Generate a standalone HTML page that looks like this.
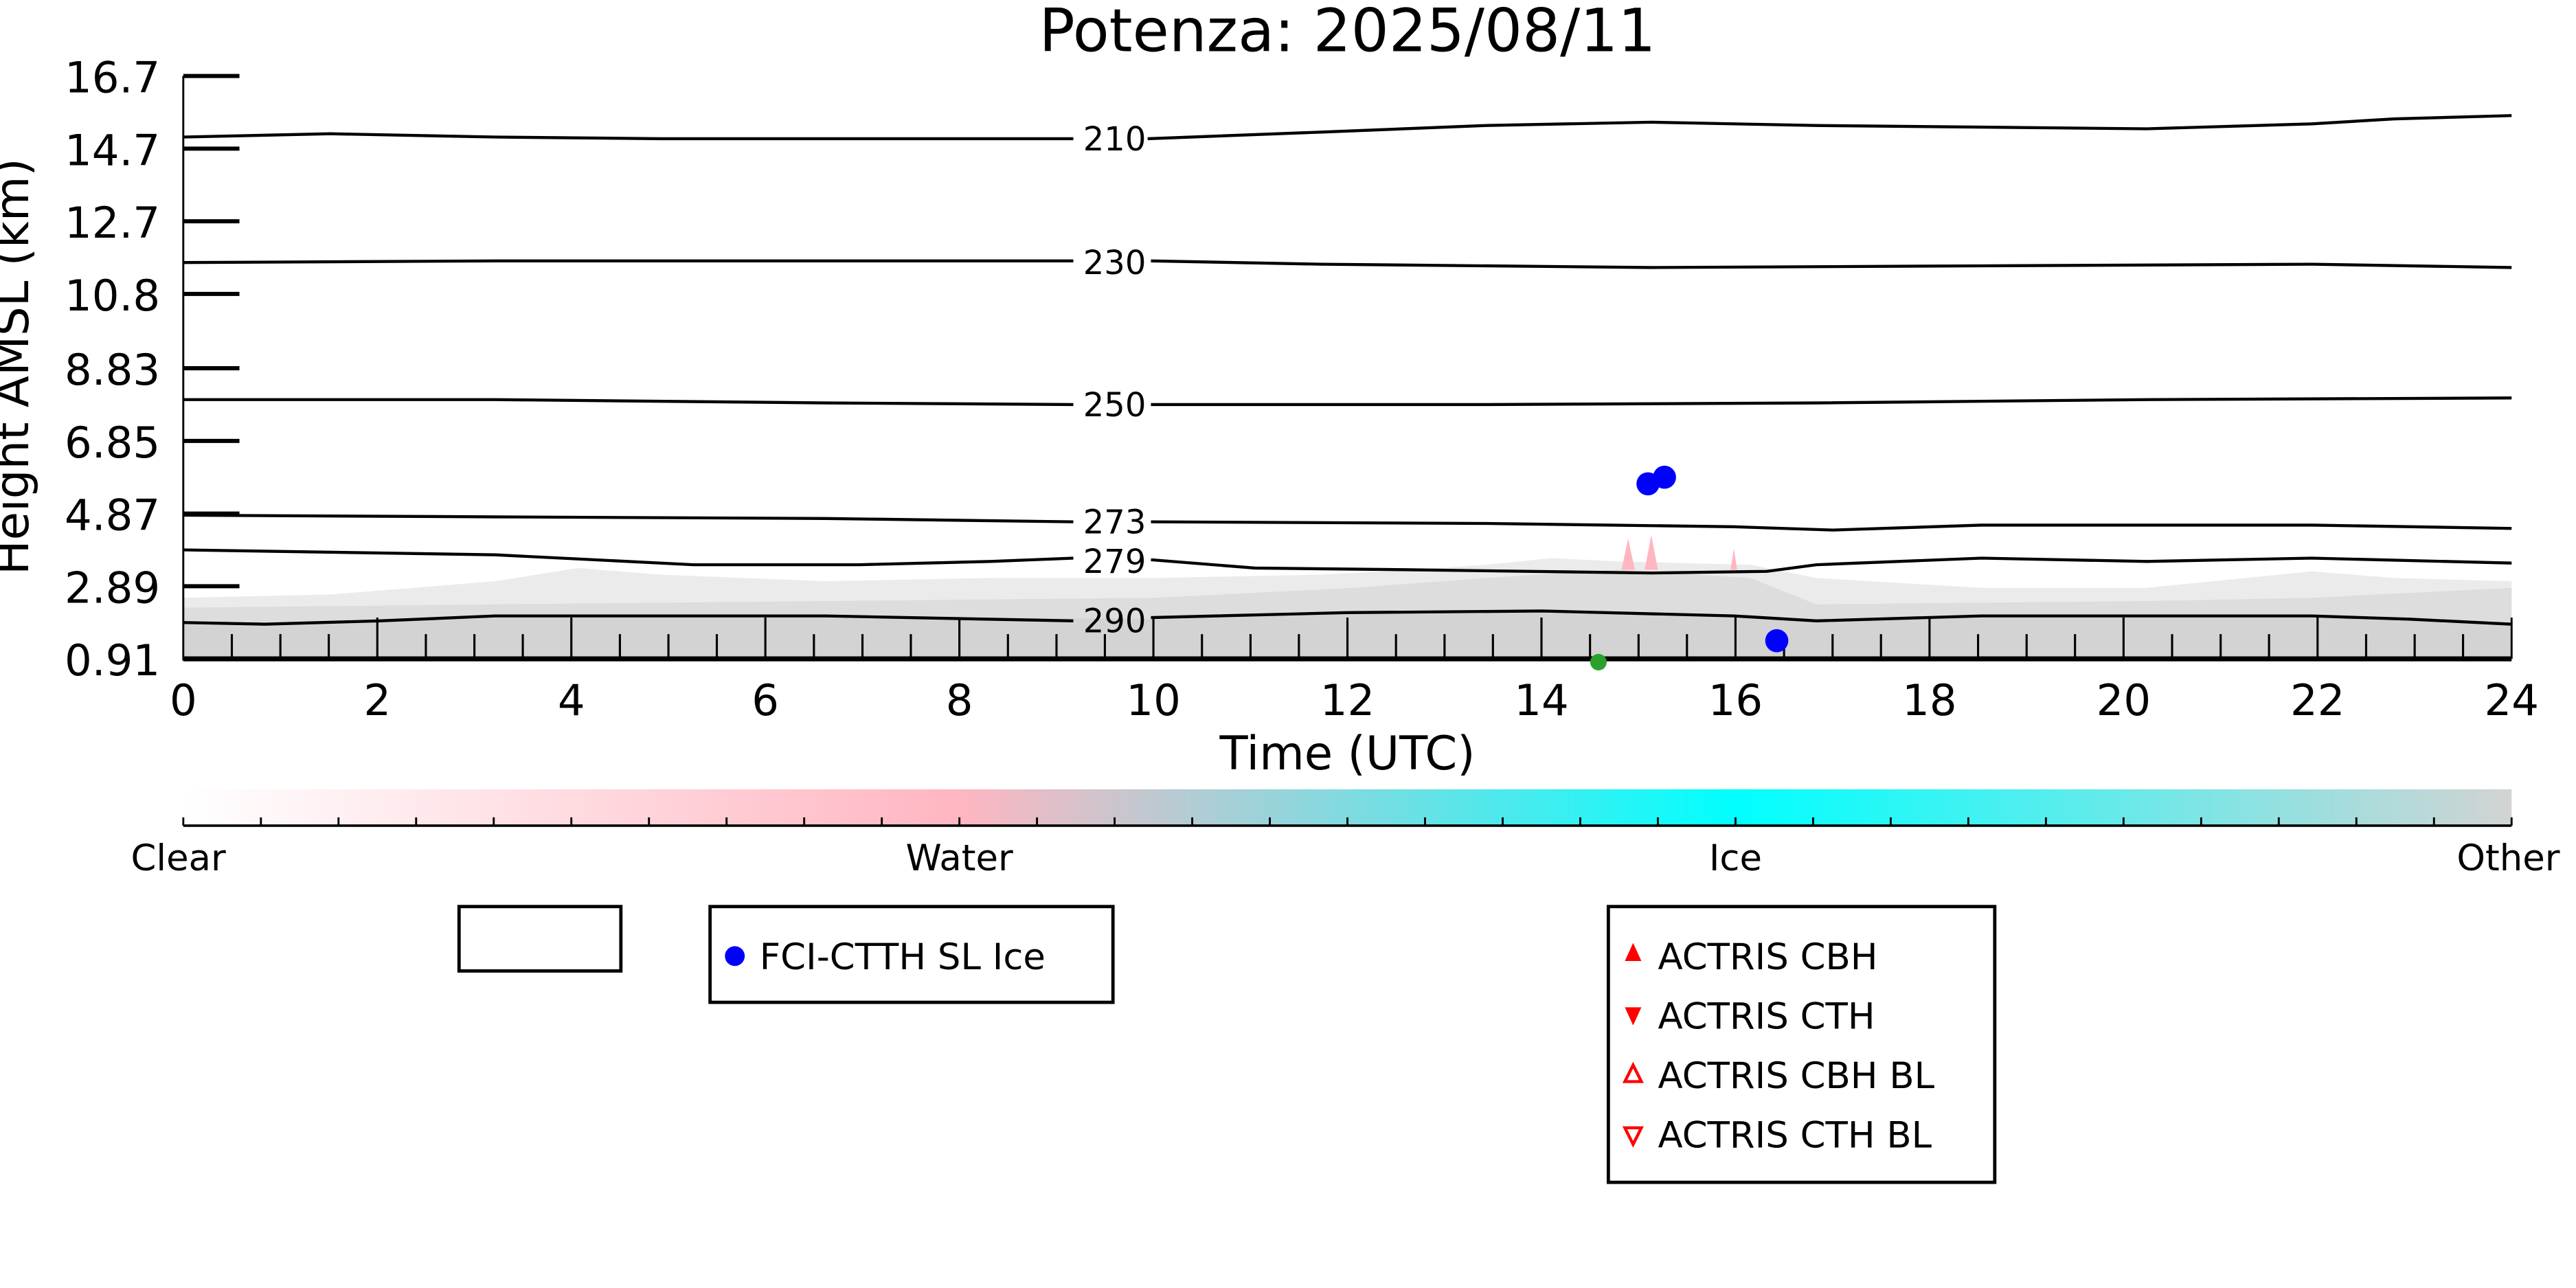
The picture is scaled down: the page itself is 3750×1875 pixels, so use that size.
<!DOCTYPE html>
<html><head><meta charset="utf-8"><style>html,body{margin:0;padding:0;background:#fff}svg{display:block}</style></head>
<body>
<svg width="3750" height="1875" viewBox="0 0 1560 780" preserveAspectRatio="none" xmlns="http://www.w3.org/2000/svg" font-family="'DejaVu Sans','Liberation Sans',sans-serif">
<defs>
<linearGradient id="cb" x1="0" x2="1" y1="0" y2="0">
<stop offset="0" stop-color="#ffffff"/>
<stop offset="0.333" stop-color="#ffb6c1"/>
<stop offset="0.667" stop-color="#00ffff"/>
<stop offset="1" stop-color="#d3d3d3"/>
</linearGradient>
</defs>
<rect width="1560" height="780" fill="#fff"/>
<text x="816" y="31" font-size="36" text-anchor="middle">Potenza: 2025/08/11</text>
<!-- noisy band -->
<path d="M111,362 L200,360 L300,352 L350,344 L400,348 L500,352 L600,350 L700,350 L800,348 L840,346 L900,342 L940,338 L980,340 L1060,342 L1100,350 L1200,356 L1300,356 L1400,346 L1450,350 L1521,352 L1521,399 L111,399 Z" fill="#d3d3d3" opacity="0.45"/>
<path d="M111,368 L300,366 L500,364 L700,362 L820,356 L900,350 L980,345 L1060,350 L1100,366 L1300,364 L1400,362 L1521,356 L1521,399 L111,399 Z" fill="#d3d3d3" opacity="0.6"/>
<path d="M111,377 L160,378 L230,376 L300,373 L500,373 L700,375 L816,372 L934,370 L1050,374 L1100,376 L1200,373 L1300,373 L1400,373 L1460,376 L1521,378 L1521,399 L111,399 Z" fill="#d3d3d3"/>
<path d="M982,345 L986,326 L990,345 Z M996,345 L1000,324 L1004,345 Z M1048,345 L1050,332 L1052,345 Z" fill="#ffb6c1"/>
<!-- contours -->
<g fill="none" stroke="#000" stroke-width="1.8">
<path d="M111,83 L200,81 L300,83 L400,84 L500,84 L650,84"/>
<path d="M695,84 L800,80 L900,76 L1000,74 L1100,76 L1200,77 L1300,78 L1400,75 L1450,72 L1521,70"/>
<path d="M111,159 L300,158 L500,158 L650,158"/>
<path d="M697,158 L800,160 L1000,162 L1200,161 L1400,160 L1521,162"/>
<path d="M111,242 L300,242 L500,244 L650,245"/>
<path d="M697,245 L900,245 L1100,244 L1300,242 L1521,241"/>
<path d="M111,312 L300,313 L500,314 L650,316"/>
<path d="M697,316 L900,317 L1050,319 L1110,321 L1200,318 L1400,318 L1521,320"/>
<path d="M111,333 L300,336 L420,342 L520,342 L600,340 L650,338"/>
<path d="M697,339 L760,344 L850,345 L1000,347 L1070,346 L1100,342 L1200,338 L1300,340 L1400,338 L1521,341"/>
<path d="M111,377 L160,378 L230,376 L300,373 L500,373 L650,376"/>
<path d="M697,374 L816,371 L934,370 L1050,373 L1100,376 L1200,373 L1300,373 L1400,373 L1460,375 L1521,378"/>
</g>
<g font-size="20" text-anchor="middle">
<text x="675" y="91">210</text>
<text x="675" y="166">230</text>
<text x="675" y="252">250</text>
<text x="675" y="323">273</text>
<text x="675" y="347">279</text>
<text x="675" y="383">290</text>
</g>
<!-- axes -->
<line x1="111" y1="46" x2="111" y2="400" stroke="#000" stroke-width="1.2"/>
<line x1="111" y1="399" x2="1521" y2="399" stroke="#000" stroke-width="3"/>
<line x1="1521" y1="374" x2="1521" y2="399" stroke="#000" stroke-width="1.2"/>
<g stroke="#000" stroke-width="2.5">
<line x1="111" y1="46" x2="145" y2="46"/><line x1="111" y1="90" x2="145" y2="90"/>
<line x1="111" y1="134" x2="145" y2="134"/><line x1="111" y1="178" x2="145" y2="178"/>
<line x1="111" y1="223" x2="145" y2="223"/><line x1="111" y1="267" x2="145" y2="267"/>
<line x1="111" y1="311" x2="145" y2="311"/><line x1="111" y1="355" x2="145" y2="355"/>
</g>
<g stroke="#000" stroke-width="1.3" id="xt">
<path d="M228.5,399V374M346,399V374M463.5,399V374M581,399V374M698.5,399V374M816,399V374M933.5,399V374M1051,399V374M1168.5,399V374M1286,399V374M1403.5,399V374"/>
<path d="M140.4,399V384M169.8,399V384M199.1,399V384M257.9,399V384M287.3,399V384M316.6,399V384M375.4,399V384M404.8,399V384M434.1,399V384M492.9,399V384M522.3,399V384M551.6,399V384M610.4,399V384M639.8,399V384M669.1,399V384M727.9,399V384M757.3,399V384M786.6,399V384M845.4,399V384M874.8,399V384M904.1,399V384M962.9,399V384M992.3,399V384M1021.6,399V384M1080.4,399V384M1109.8,399V384M1139.1,399V384M1197.9,399V384M1227.3,399V384M1256.6,399V384M1315.4,399V384M1344.8,399V384M1374.1,399V384M1432.9,399V384M1462.3,399V384M1491.6,399V384"/>
</g>
<g font-size="26" text-anchor="end">
<text x="97" y="56">16.7</text><text x="97" y="100">14.7</text><text x="97" y="144">12.7</text>
<text x="97" y="188">10.8</text><text x="97" y="233">8.83</text><text x="97" y="277">6.85</text>
<text x="97" y="321">4.87</text><text x="97" y="365">2.89</text><text x="97" y="409">0.91</text>
</g>
<g font-size="26" text-anchor="middle">
<text x="111" y="433">0</text><text x="228.5" y="433">2</text><text x="346" y="433">4</text><text x="463.5" y="433">6</text>
<text x="581" y="433">8</text><text x="698.5" y="433">10</text><text x="816" y="433">12</text><text x="933.5" y="433">14</text>
<text x="1051" y="433">16</text><text x="1168.5" y="433">18</text><text x="1286" y="433">20</text><text x="1403.5" y="433">22</text><text x="1521" y="433">24</text>
</g>
<text x="816" y="466" font-size="28" text-anchor="middle">Time (UTC)</text>
<text transform="translate(17,222) rotate(-90)" font-size="28" text-anchor="middle">Height AMSL (km)</text>
<!-- points -->
<circle cx="968" cy="401" r="5" fill="#2ca02c"/>
<circle cx="998" cy="293" r="7" fill="#0000ff"/>
<circle cx="1008" cy="289" r="7" fill="#0000ff"/>
<circle cx="1076" cy="388" r="7" fill="#0000ff"/>
<!-- colorbar -->
<rect x="111" y="478" width="1410" height="22" fill="url(#cb)"/>
<line x1="111" y1="500" x2="1521" y2="500" stroke="#000" stroke-width="1.5"/>
<g stroke="#000" stroke-width="1.2">
<path d="M111,500V495M158,500V495M205,500V495M252,500V495M299,500V495M346,500V495M393,500V495M440,500V495M487,500V495M534,500V495M581,500V495M628,500V495M675,500V495M722,500V495M769,500V495M816,500V495M863,500V495M910,500V495M957,500V495M1004,500V495M1051,500V495M1098,500V495M1145,500V495M1192,500V495M1239,500V495M1286,500V495M1333,500V495M1380,500V495M1427,500V495M1474,500V495M1521,500V495"/>
</g>
<g font-size="22" text-anchor="middle">
<text x="108" y="527">Clear</text><text x="581" y="527">Water</text><text x="1051" y="527">Ice</text><text x="1519" y="527">Other</text>
</g>
<!-- legends -->
<rect x="278" y="549" width="98" height="39" fill="none" stroke="#000" stroke-width="2"/>
<rect x="430" y="549" width="244" height="58" fill="none" stroke="#000" stroke-width="2"/>
<circle cx="445" cy="579" r="6" fill="#0000ff"/>
<text x="460" y="587" font-size="22">FCI-CTTH SL Ice</text>
<rect x="974" y="549" width="234" height="167" fill="none" stroke="#000" stroke-width="2"/>
<g font-size="22">
<text x="1004" y="587">ACTRIS CBH</text><text x="1004" y="623">ACTRIS CTH</text>
<text x="1004" y="659">ACTRIS CBH BL</text><text x="1004" y="695">ACTRIS CTH BL</text>
</g>
<polygon points="989,571 984,582 994,582" fill="#ff0000"/>
<polygon points="984,610 994,610 989,621" fill="#ff0000"/>
<polygon points="989,645 984,655 994,655" fill="none" stroke="#ff0000" stroke-width="1.8"/>
<polygon points="984,683 994,683 989,693" fill="none" stroke="#ff0000" stroke-width="1.8"/>
</svg>
</body></html>
